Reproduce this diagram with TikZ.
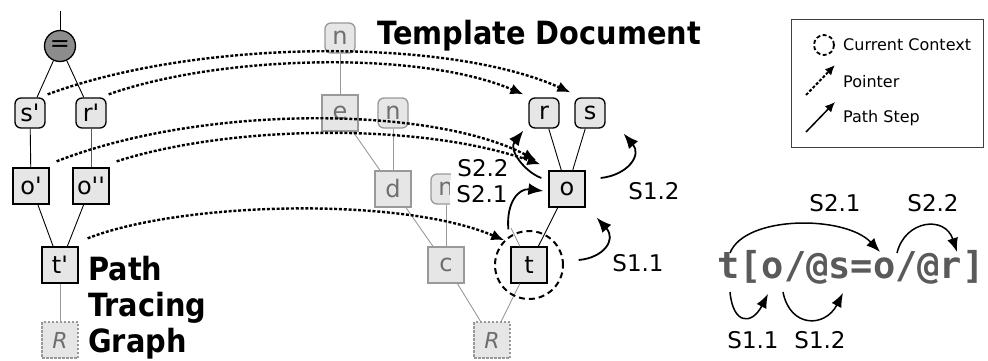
\documentclass[tikz,border=0pt]{standalone}
\usepackage{fontspec}
\setmainfont{DejaVu Sans}
\newfontfamily\headfont[FakeStretch=0.9]{DejaVu Sans}
\newfontfamily\exprfont{DejaVu Sans Mono}
\usetikzlibrary{arrows.meta}
\definecolor{nodefill}{HTML}{E6E6E6}
\definecolor{faded}{HTML}{999999}
\definecolor{fadedtext}{HTML}{6E6E6E}
\definecolor{eqfill}{HTML}{8C8C8C}
\definecolor{exprgray}{HTML}{5A5A5A}
\definecolor{legendline}{HTML}{404040}
\newcommand{\pr}{\textquotesingle}
\begin{document}
\begin{tikzpicture}[x=1pt,y=-1pt,
  every node/.style={inner sep=0pt},
  nodetext/.style={font=\fontsize{24}{24}\selectfont},
  sq/.style={nodetext, draw=black, line width=1.3pt, fill=nodefill, minimum size=36pt},
  rsq/.style={nodetext, draw=black, line width=1.3pt, fill=nodefill, minimum size=30pt, rounded corners=6pt},
  fsq/.style={sq, draw=faded, text=fadedtext},
  frsq/.style={rsq, draw=faded, text=fadedtext},
  rootbox/.style={sq, draw=faded, text=fadedtext, dash pattern=on 2.5pt off 1.5pt, font=\fontsize{22}{22}\selectfont\itshape},
  eqnode/.style={nodetext, circle, draw=black, line width=1.3pt, fill=eqfill, minimum size=31pt},
  tedge/.style={draw=black, line width=0.9pt},
  fedge/.style={draw=faded, line width=0.9pt},
  ptr/.style={line width=2.4pt, dash pattern=on 3pt off 1.8pt, -{Latex[length=13pt,width=11pt]}},
  pathstep/.style={line width=1.8pt, -{Latex[length=15pt,width=12pt]}},
  exprstep/.style={line width=1.5pt, -{Latex[length=14pt,width=11pt]}},
  steplabel/.style={font=\fontsize{23}{23}\selectfont},
  heading/.style={font=\headfont\bfseries\fontsize{32}{32}\selectfont, anchor=base west},
  legendtext/.style={font=\fontsize{16}{16}\selectfont, anchor=west},
]
\useasboundingbox (0,0) rectangle (988,361);

% ---------- path tracing graph ----------
\coordinate (top) at (60,11);
\node[eqnode] (eq) at (60,46) {=};
\node[rsq] (sp) at (30,113) {s\pr};
\node[rsq] (rp) at (91,113) {r\pr};
\node[sq] (op) at (31,186) {o\pr};
\node[sq] (opp) at (91,186) {o\pr\pr};
\node[sq] (tp) at (60,265) {t\pr};
\node[rootbox] (rootL) at (60,340) {R};

\draw[tedge] (top) -- (eq);
\draw[tedge] (eq) -- (sp);
\draw[tedge] (eq) -- (rp);
\draw[tedge] (sp) -- (op);
\draw[tedge, draw=black!65] (rp) -- (opp);
\draw[tedge] (op) -- (tp);
\draw[tedge] (opp) -- (tp);
\draw[fedge] (tp) -- (rootL);

\node[heading] (h1) at (88,280) {Path};
\node[heading] (h2) at (88,316) {Tracing};
\node[heading] (h3) at (88,352) {Graph};

% ---------- template document ----------
\node[heading] (title) at (377,45) {Template Document};

\node[frsq] (n1) at (340,38) {n};
\node[fsq] (e) at (340,113) {e};
\node[frsq] (n2) at (393,113) {n};
\node[fsq] (d) at (393,189) {d};
\node[frsq] (n3) at (446,189) {n};
\node[fsq] (c) at (446,265) {c};
\node[rootbox] (rootM) at (492,340) {R};
\node[sq] (t) at (529,265) {t};
\node[sq] (o) at (567,189) {o};
\node[rsq] (r) at (544,113) {r};
\node[rsq] (s) at (590,113) {s};
\coordinate (tpar) at (511,228);

\draw[fedge] (n1) -- (e);
\draw[fedge] (e) -- (d);
\draw[fedge] (n2) -- (d);
\draw[fedge] (d) -- (c);
\draw[fedge] (n3) -- (c);
\draw[fedge] (c) -- (rootM);
\draw[fedge] (t) -- (rootM);
\draw[fedge] (t) -- (tpar);
\draw[tedge] (t) -- (o);
\draw[tedge] (o) -- (r);
\draw[tedge] (o) -- (s);

\node[circle, draw=black, line width=2pt, dash pattern=on 6pt off 4pt, minimum size=68pt] (ctx) at (t) {};

% step labels beside the template
\node[steplabel, fill=white, inner xsep=6pt, inner ysep=5pt] (l22) at (483,168.5) {S2.2};
\node[steplabel, fill=white, inner xsep=6pt, inner ysep=5pt] (l21) at (482,194) {S2.1};
\node[steplabel] (l12) at (654,191) {S1.2};
\node[steplabel] (l11) at (638,263) {S1.1};

% ---------- pointers ----------
\draw[ptr] ([shift={(2,-3)}]sp.north east) .. controls (200,38) and (450,38) .. ([shift={(-4,-5)}]s.north west);
\draw[ptr] ([shift={(2,-3)}]rp.north east) .. controls (220,55) and (420,50) .. ([shift={(-5,-3)}]r.north west);
\draw[ptr] ([shift={(7,-6)}]op.north east) .. controls (200,105) and (430,105) .. ([shift={(-12,-10)}]o.north west);
\draw[ptr] ([shift={(7,-6)}]opp.north east) .. controls (230,125) and (420,122) .. ([shift={(-8,-6)}]o.north west);
\draw[ptr] ([shift={(9,-8)}]tp.north east) .. controls (180,202) and (400,196) .. (ctx.135);

% ---------- path steps ----------
\draw[pathstep] ([shift={(-2,-17)}]t.north west) .. controls (506,202) and (519,188) .. ([shift={(-5,2)}]o.west);
\draw[pathstep] ([shift={(-7,-11)}]o.west) .. controls (525,172) and (508,150) .. ([shift={(-5,2)}]r.south west);
\draw[pathstep] ([shift={(15,-11)}]o.east) .. controls (628,175) and (642,155) .. ([shift={(18,5)}]s.south east);
\draw[pathstep] ([shift={(31,-5)}]t.east) .. controls (603,258) and (617,240) .. ([shift={(11,10)}]o.south east);

% ---------- legend ----------
\node[draw=legendline, line width=1pt, minimum width=192pt, minimum height=127pt] (legend) at (887,83.5) {};
\node[circle, draw=black, line width=1.8pt, dash pattern=on 4pt off 2.5pt, minimum size=20pt] (lctx) at (824,45) {};
\node[legendtext] (lt1) at (843,45) {Current Context};
\coordinate (lp0) at (806,95);
\coordinate (lp1) at (835,65);
\draw[line width=2pt, dash pattern=on 3pt off 1.8pt, -{Latex[length=10pt,width=9pt]}] (lp0) -- (lp1);
\node[legendtext] (lt2) at (843,82) {Pointer};
\coordinate (ls0) at (806,132);
\coordinate (ls1) at (835,102);
\draw[line width=1.5pt, -{Latex[length=10pt,width=9pt]}] (ls0) -- (ls1);
\node[legendtext] (lt3) at (843,118) {Path Step};

% ---------- path expression ----------
\node[anchor=base west, text=exprgray, font=\exprfont\bfseries\fontsize{37}{37}\selectfont] (expr) at (717,278) {t[o/@s=o/@r]};
\coordinate (xt-lo) at (730,292);
\coordinate (xo1-lo) at (768,294);
\coordinate (xo1-lo2) at (783,292);
\coordinate (xs-lo) at (843,293);
\coordinate (xt-hi) at (730,253);
\coordinate (xo2-hi) at (880,252);
\coordinate (xo2-hi2) at (897,253);
\coordinate (xr-hi) at (957,252);
\draw[exprstep] (xt-lo) .. controls (733,325) and (752,325) .. (xo1-lo);
\draw[exprstep] (xo1-lo2) .. controls (790,328) and (825,328) .. (xs-lo);
\draw[exprstep] (xt-hi) .. controls (745,215) and (845,215) .. (xo2-hi);
\draw[exprstep] (xo2-hi2) .. controls (905,220) and (945,215) .. (xr-hi);
\node[steplabel] (x11) at (753,340) {S1.1};
\node[steplabel] (x12) at (820,340) {S1.2};
\node[steplabel] (x21) at (835,203) {S2.1};
\node[steplabel] (x22) at (933,203) {S2.2};
\end{tikzpicture}
\end{document}
